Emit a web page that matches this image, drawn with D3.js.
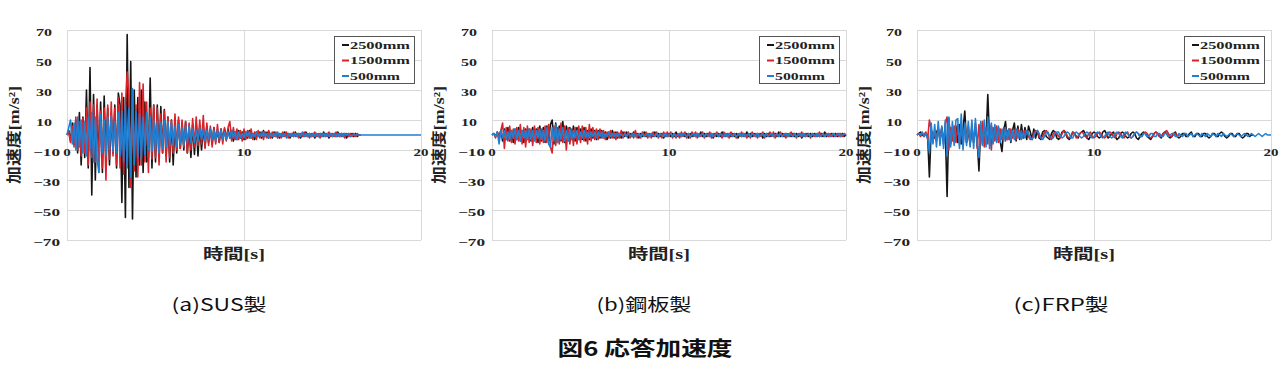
<!DOCTYPE html>
<html>
<head>
<meta charset="utf-8">
<script src="https://cdn.jsdelivr.net/npm/d3@7"></script>
<style>
html,body{margin:0;padding:0;background:#fff;}
svg{display:block;}
</style>
</head>
<body>
<svg id="chart" width="1280" height="376"></svg>
<script>
// ---------------- data ----------------
const seriesNames = ["2500mm", "1500mm", "500mm"];
const panelCaptions = ["(a)SUS製", "(b)鋼板製", "(c)FRP製"];
const figureTitle = "図6 応答加速度";
const yAxisTitle = "加速度[m/s²]";
const xAxisTitle = "時間[s]";
const yTicks = [70, 50, 30, 10, -10, -30, -50, -70];
const xTicks = [0, 10, 20];
const sampleStep = 0.1; // seconds between samples

// (a) SUS
const susBlack = [
0,3,-4,8,-6,10,-12,15,-20,12,
-15,30,-22,45,-40,27,-30,20,-18,22,
-25,26,-15,18,-20,14,-12,20,-22,28,
20,-45,25,-55,67,-35,49,-56,30,-28,
25,-20,30,-25,22,-18,-15,38,-22,20,
-18,20,-15,19,-12,17,-14,12,-18,10,
-20,8,-12,10,-9,8,-10,9,-12,6,
-15,7,-13,8,-14,6,-10,5,-8,6,
-5,4,-6,5,-4,3,-5,4,-3,4,
-3,4,-2,3,-4,2,-3,3,-2,2,
-3,2,-2,3,-2,1,-3,2,-1,2,
-2,3,-1,2,-2,1,-2,2,-1,1,
-2,1,-1,2,-1,1,-2,1,-1,2,
-1,1,-2,1,-1,2,-1,1,-1,1,
-2,1,-1,1,-1,2,-1,1,-2,1,
-1,1,-1,2,-1,1,-1,1,-2,1,
-1,1,-1,1,-1,0,0];
const susRed = [
0,2,-5,6,-8,12,-10,9,-14,11,
-12,18,-20,22,-15,20,-18,24,-25,16,
-22,18,-30,20,-16,22,-14,18,-20,25,
-22,28,-26,18,42,25,-35,30,-24,20,
-28,35,-20,34,-18,22,-25,18,-16,20,
-15,18,-20,14,-12,16,-18,12,-15,10,
-12,14,-10,12,-9,10,-8,9,-12,8,
-10,11,-8,12,-7,10,-6,13,-9,8,
-7,6,-8,5,-6,7,-5,4,-6,5,
-4,5,9,-4,5,-3,4,-3,3,-4,
4,-3,3,-2,4,-3,2,-3,3,-2,
2,-3,2,-2,3,-2,2,-1,2,-2,
1,-2,2,-1,2,-2,1,-1,2,-1,
1,-2,1,-1,2,-1,1,-2,1,-1,
2,-1,1,-2,1,-1,1,-1,2,-1,
1,-1,2,-1,1,-1,1,-2,1,-1,
1,-1,1,-1,1,0,0];
const susBlue = [
0,5,10,-6,8,-10,12,-8,10,-12,
9,-14,12,-10,15,-18,12,-16,-25,14,
-12,10,-14,12,-10,13,-11,9,-12,15,
-14,16,-18,20,-22,18,-28,31,-20,16,
-15,14,-16,12,-13,15,-10,12,-11,10,
-10,9,-12,8,-9,10,-8,9,-7,8,
-7,6,-8,7,-6,5,-7,6,-5,6,
-5,4,-5,3,-4,5,-3,4,-4,3,
-3,4,-3,3,-4,3,-2,3,-3,2,
-3,2,-2,3,-2,2,-3,2,-2,1,
-2,2,-1,2,-2,1,-1,2,-1,1,
-1,2,-1,1,-2,1,-1,1,-1,2,
-1,1,-1,1,-2,1,-1,1,-1,1,
-1,1,-1,2,-1,1,-1,1,-1,1,
-1,1,-1,1,-1,1,-1,1,-1,1,
-1,1,-1,1,-1,1,-1,1,0,1,
-1,0,0,0,0,0,0,0,0,0,
0,0,0,0,0,0,0,0,0,0,
0,0,0,0,0,0,0,0,0,0,
0,0,0,0,0,0,0,0,0,0,
0];

// (b) steel plate
const steelBlack = [
0,1,-1,2,-2,3,-4,4,-3,5,
-4,3,-5,4,-3,5,-4,3,-5,4,
-3,4,-4,5,-3,4,-5,6,-4,5,
-5,6,-4,7,10,-6,8,-5,6,-4,
9,-5,6,-4,5,-3,6,-4,5,-3,
4,-3,5,-4,3,-3,4,-2,3,-3,
3,-2,3,-2,2,-3,2,-2,3,-2,
2,-2,1,-2,2,-1,2,-2,1,-1,
2,-1,1,-2,1,-1,2,-1,1,-1,
1,-1,2,-1,1,-1,1,-2,1,-1,
1,-1,1,-1,2,-1,1,-1,1,-1,
1,-2,1,-1,1,-1,1,-1,2,-1,
1,-1,1,-1,1,-2,1,-1,1,-1,
2,-1,1,-1,1,-1,1,-1,1,-2,
1,-1,1,-1,2,-1,1,-1,1,-1,
1,-1,1,-2,1,-1,1,-1,1,-1,
1,-1,2,-1,1,-1,1,-1,1,-1,
1,-1,1,-1,1,-2,1,-1,1,-1,
1,-1,1,-1,1,-1,1,-1,2,-1,
1,-1,1,-1,1,-1,1,-1,1,-1,
0];
const steelRed = [
0,1,-2,2,-1,3,8,-9,5,-4,
6,-5,4,-6,5,-4,7,-6,5,-8,
6,-5,4,-7,6,-5,5,-6,4,-5,
6,-5,7,-8,-12,6,-7,5,-6,8,
-5,6,-10,5,-6,4,-7,5,-6,6,
-5,6,-4,5,-6,7,-4,5,-3,4,
-3,4,-2,3,-3,2,-2,3,-2,2,
-3,2,-2,3,-2,2,-1,2,-2,1,
-2,3,-2,1,-2,2,-1,2,-2,1,
-2,2,-1,2,-2,1,-2,2,-1,2,
-1,2,-2,1,-2,1,-2,2,-1,2,
-2,1,-2,2,-1,2,-2,1,-1,2,
-2,1,-1,2,-2,1,-1,2,-1,1,
-2,2,-1,1,-2,2,-1,1,-2,1,
-1,2,-1,1,-2,1,-2,2,-1,1,
-2,1,-1,2,-2,1,-1,2,-1,2,
-2,1,-1,2,-1,1,-2,1,-1,2,
-1,1,-2,1,-1,2,-1,1,-1,1,
-2,1,-1,1,-1,2,-1,1,-1,1,
-1,1,-1,1,-1,1,-1,1,-1,1,
0];
const steelBlue = [
0,1,-1,2,-6,3,-2,3,-3,2,
-3,3,-2,4,-3,3,-4,3,-2,3,
-3,4,-3,3,-4,3,-2,4,-3,3,
-4,5,-6,-8,5,-4,7,-5,4,-3,
5,-4,3,-4,4,-3,3,-2,3,-3,
2,-2,3,-2,2,-2,2,-1,2,-2,
2,-1,2,-2,1,-1,2,-1,1,-1,
1,-1,1,0,-1,1,-1,1,0,-1,
1,-1,0,1,-1,1,-1,0,1,-1,
1,0,-1,1,-1,1,0,-1,1,-1,
0,1,-1,1,-1,0,1,-1,1,0,
-1,1,-1,0,1,-1,1,-1,0,1,
-1,1,0,-1,1,-1,0,1,-1,1,
0,-1,1,-1,1,0,-1,1,-1,0,
1,-1,1,-1,0,1,-1,1,0,-1,
1,-1,0,1,-1,1,-1,0,1,-1,
0,1,-1,1,-1,0,1,-1,1,0,
-1,1,-1,0,1,-1,1,-1,0,1,
-1,1,0,-1,1,-1,0,1,-1,0,
1,-1,0,1,-1,0,1,-1,0,1,
0];

// (c) FRP
const frpBlack = [
0,1,2,0,-1,1,0,-28,3,1,
-2,2,4,-3,5,-4,3,-41,11,-6,
5,-4,6,-5,7,-6,4,16,-5,3,
-6,4,-5,5,-3,-24,6,-4,5,-3,
27,-4,6,-5,4,-3,5,-4,-11,3,
9,-3,4,-5,3,8,-4,6,-3,7,
-2,5,-3,6,2,-3,4,-2,3,-2,
-3,2,3,-1,-2,-3,1,3,2,-2,
-3,-1,2,3,1,-2,-3,-1,2,1,
-1,-2,1,2,3,1,-2,-3,-1,1,
2,1,-1,-2,-1,2,3,1,-2,-1,
1,2,-1,-3,-2,1,2,1,-1,-2,
-1,1,2,1,-2,-3,-1,1,2,1,
-1,-2,-3,-1,1,2,1,-1,-2,1,
2,1,-1,-2,-1,1,2,-1,-2,-1,
1,1,-1,-1,1,2,-1,-1,1,1,
-1,-1,1,1,-1,-2,-1,1,1,-1,
-1,1,2,1,-1,-2,-1,1,1,-1,
-1,1,1,-1,-2,-1,1,1,-1,0,
0];
const frpRed = [
0,1,-1,1,0,2,-3,10,4,-5,
3,-4,5,-3,4,-6,8,12,-10,5,
-4,6,-5,7,-6,5,-7,8,-5,6,
-7,6,-5,8,-9,7,-6,9,-8,5,
-6,7,-10,5,-4,6,-5,4,-3,5,
-4,3,-3,4,-2,3,-3,4,-2,3,
-2,3,2,-1,-3,-2,1,3,2,-1,
-2,-1,2,3,1,-2,-3,1,2,1,
-1,-2,1,3,2,-1,-2,-1,2,1,
-2,-1,1,2,1,-1,-2,1,2,-1,
-2,-1,1,2,1,-1,-2,-1,1,2,
1,-1,-2,1,2,1,-1,-2,1,2,
-1,-2,-1,1,2,1,-1,-1,1,2,
1,-1,-2,-1,1,2,1,-1,-1,1,
2,3,1,-1,-1,1,1,-1,0,0];
const frpBlue = [
0,1,0,2,-1,1,-2,-12,8,-6,
7,-8,9,-7,6,-9,10,-14,12,-8,
9,-7,10,11,-9,14,-10,8,-7,9,
-8,10,-9,11,-6,-15,9,-7,10,-8,
12,-9,8,-6,7,-5,6,-5,4,-4,
5,-3,4,-4,3,-3,4,-2,3,-3,
2,-2,3,1,-2,-3,-1,2,3,1,
-2,-3,-1,2,2,-1,-2,-2,1,2,
2,-1,-2,-1,1,2,1,-2,-2,1,
2,1,-1,-2,-1,1,2,1,-1,-2,
-1,1,2,1,-1,-2,-1,1,2,-1,
-2,-1,1,2,1,-1,-2,1,2,1,
-1,-2,-1,1,2,1,-1,-1,1,1,
-1,-1,1,1,-1,-1,1,1,-1,-1,
1,1,-1,0,1,1,-1,-1,1,0,
-1,1,1,-1,0,1,-1,0,1,0,
-1,1,0,-1,1,0,-1,1,0,-1,
1,0,-1,1,0,-1,0,1,0,-1,
0,1,0,-1,0,1,0,-1,0,1,
0,-1,0,1,0,-1,0,1,0,0,
0];

const panelSeries = [
  [susBlack, susRed, susBlue],
  [steelBlack, steelRed, steelBlue],
  [frpBlack, frpRed, frpBlue]
];

// ---------------- layout & style ----------------
const seriesColors = ["#151515", "#d9232a", "#1f7fd2"];
const plotLefts = [67, 492, 917];
const plotW = 354, plotTop = 30, plotBottom = 240;
const gridColor = "#d9d9d9";
const latinSerif = "'Liberation Serif', 'Noto Sans CJK JP', serif";
const captionX = [219, 644, 1061];

const svg = d3.select("#chart");
svg.append("rect").attr("width", 1280).attr("height", 376).attr("fill", "#fff");

panelSeries.forEach((series, p) => {
  const L = plotLefts[p];
  const x = d3.scaleLinear().domain([0, 20]).range([L, L + plotW]);
  const y = d3.scaleLinear().domain([-70, 70]).range([plotBottom, plotTop]);
  const g = svg.append("g");

  // horizontal gridlines
  g.selectAll("line.hg").data(yTicks).join("line")
    .attr("x1", x(0)).attr("x2", x(20))
    .attr("y1", d => y(d) + 0.5).attr("y2", d => y(d) + 0.5)
    .attr("stroke", gridColor).attr("stroke-width", 1);
  // vertical gridlines
  g.selectAll("line.vg").data(xTicks).join("line")
    .attr("x1", d => Math.round(x(d)) + 0.5).attr("x2", d => Math.round(x(d)) + 0.5)
    .attr("y1", y(70)).attr("y2", y(-70))
    .attr("stroke", gridColor).attr("stroke-width", 1);

  // data lines
  const line = d3.line().x((d, i) => x(i * sampleStep)).y(d => y(d));
  series.forEach((vals, s) => {
    g.append("path").datum(vals)
      .attr("d", line)
      .attr("fill", "none")
      .attr("stroke", seriesColors[s])
      .attr("stroke-width", 1.6)
      .attr("stroke-linejoin", "round");
  });

  // y tick labels
  g.selectAll("text.yt").data(yTicks).join("text")
    .attr("x", d => d < 0 ? L - 7 : L - 15)
    .attr("y", d => y(d) + 5.5)
    .attr("text-anchor", "end")
    .attr("font-family", latinSerif).attr("font-weight", "bold").attr("font-size", 11)
    .attr("fill", "#222")
    .attr("textLength", d => d < 0 ? 27 : 16)
    .attr("lengthAdjust", "spacingAndGlyphs")
    .text(d => d < 0 ? "−" + Math.abs(d) : String(d));

  // x tick labels (at the zero line)
  g.selectAll("text.xt").data(xTicks).join("text")
    .attr("x", d => x(d))
    .attr("y", y(0) + 20.5)
    .attr("text-anchor", "middle")
    .attr("font-family", latinSerif).attr("font-weight", "bold").attr("font-size", 11)
    .attr("fill", "#222")
    .attr("textLength", d => String(d).length * 7.5)
    .attr("lengthAdjust", "spacingAndGlyphs")
    .text(d => String(d));

  // axis titles
  g.append("text")
    .attr("transform", `translate(${L - 53},${(plotTop + plotBottom) / 2}) rotate(-90)`)
    .attr("text-anchor", "middle").attr("dominant-baseline", "central")
    .attr("font-family", latinSerif).attr("font-weight", "bold").attr("font-size", 15)
    .attr("fill", "#222")
    .attr("textLength", 98).attr("lengthAdjust", "spacingAndGlyphs")
    .text(yAxisTitle);
  g.append("text")
    .attr("x", L + 167).attr("y", 259)
    .attr("text-anchor", "middle")
    .attr("font-family", latinSerif).attr("font-weight", "bold").attr("font-size", 15)
    .attr("fill", "#222")
    .attr("textLength", 62).attr("lengthAdjust", "spacingAndGlyphs")
    .text(xAxisTitle);

  // legend
  const lg = g.append("g").attr("transform", `translate(${L + 267},36)`);
  lg.append("rect").attr("x", 0.5).attr("y", 0.5).attr("width", 80).attr("height", 47)
    .attr("fill", "#fff").attr("stroke", "#555").attr("stroke-width", 1);
  seriesNames.forEach((name, s) => {
    const by = 12.5 + s * 15.5;
    lg.append("line").attr("x1", 8).attr("x2", 15).attr("y1", by - 3.5).attr("y2", by - 3.5)
      .attr("stroke", seriesColors[s]).attr("stroke-width", 2);
    lg.append("text").attr("x", 16).attr("y", by)
      .attr("font-family", latinSerif).attr("font-weight", "bold").attr("font-size", 11)
      .attr("fill", "#222")
      .attr("textLength", name.length * 10).attr("lengthAdjust", "spacingAndGlyphs")
      .text(name);
  });

  // caption
  svg.append("text")
    .attr("x", captionX[p]).attr("y", 311)
    .attr("text-anchor", "middle")
    .attr("font-family", "'Noto Sans CJK JP', sans-serif").attr("font-size", 17)
    .attr("fill", "#111")
    .attr("textLength", 95).attr("lengthAdjust", "spacingAndGlyphs")
    .text(panelCaptions[p]);
});

svg.append("text")
  .attr("x", 645).attr("y", 356)
  .attr("text-anchor", "middle")
  .attr("font-family", "'Noto Sans CJK JP', sans-serif").attr("font-weight", "bold").attr("font-size", 20)
  .attr("fill", "#111")
  .attr("textLength", 175).attr("lengthAdjust", "spacingAndGlyphs")
  .text(figureTitle);
</script>
</body>
</html>
